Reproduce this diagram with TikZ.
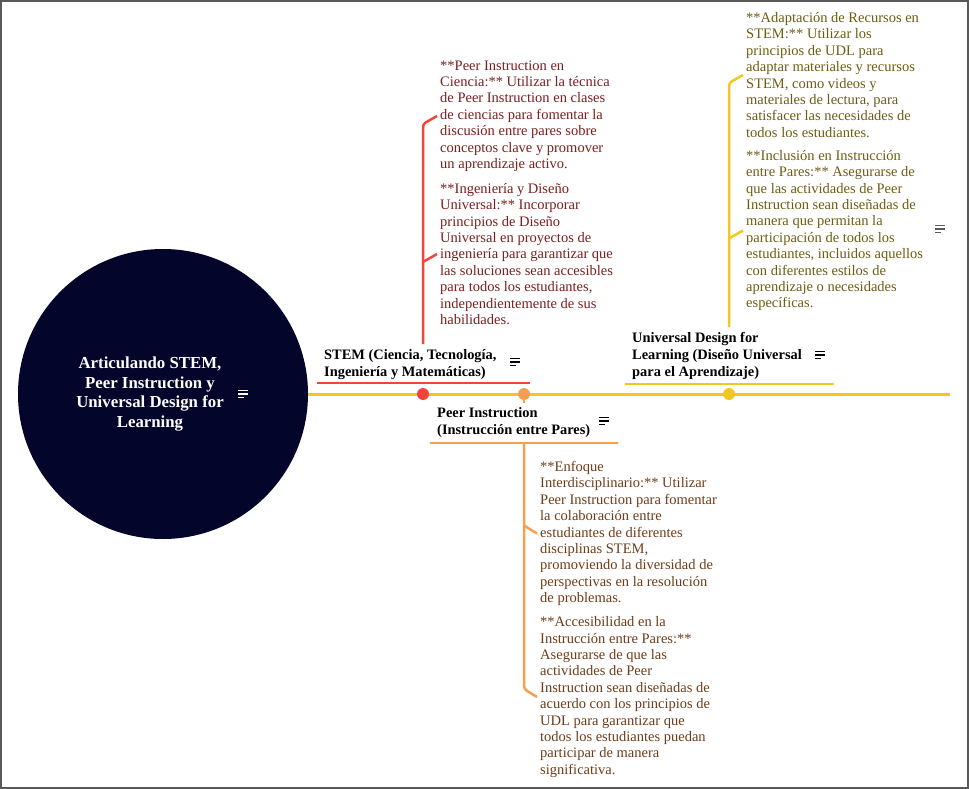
\documentclass[tikz,border=0pt]{standalone}
\usepackage{fontspec}
\setmainfont{Liberation Serif}
\usetikzlibrary{calc}
\definecolor{navy}{HTML}{04052B}
\definecolor{sun}{HTML}{F2C81E}
\definecolor{coral}{HTML}{F2453A}
\definecolor{peach}{HTML}{F4A04E}
\definecolor{wine}{HTML}{7A1E1E}
\definecolor{rust}{HTML}{6E3C18}
\definecolor{moss}{HTML}{6E5C12}

\begin{document}
\begin{tikzpicture}[x=1pt,y=-1pt,font=\fontsize{14.5}{16.4}\selectfont,
  para/.style={anchor=west,align=left,inner sep=0pt},
  head/.style={anchor=west,align=left,inner sep=0pt,font=\fontsize{14.4}{17}\selectfont\bfseries},
  branch/.style={line width=2.5pt,rounded corners=3pt},
  bar/.style={line width=2pt},
  noteicon/.pic={\draw[line width=1.4pt] (-5,-3.5)--(5,-3.5) (-5,0)--(5,0) (-5,3.5)--(1,3.5);}]
\useasboundingbox (0,0) rectangle (969,789);
\draw[gray!70!black,line width=1.5pt] (1,1) rectangle (968,788);
\node[circle,fill=navy,minimum size=290pt,inner sep=0pt] (root) at (163,394) {};
\node[text=white,align=center,inner sep=0pt,font=\fontsize{16.8}{19.5}\selectfont\bfseries] (title) at (150,394)
  {Articulando STEM,\\Peer Instruction y\\Universal Design for\\Learning};
\pic[white] at (243,394) {noteicon};
\coordinate (axisend) at (950,394);
\draw[sun,line width=3pt] (root.east) -- (axisend);
\coordinate (stemdot) at (423,394);
\coordinate (peerdot) at (524,394);
\coordinate (udldot) at (729,394);
\node[head] (stem) at (324,364.5) {STEM (Ciencia, Tecnología,\\Ingeniería y Matemáticas)};
\node[head] (peer) at (437,422.5) {Peer Instruction\\(Instrucción entre Pares)};
\node[head] (udl) at (632,356) {Universal Design for\\Learning (Diseño Universal\\para el Aprendizaje)};
\pic[black] at (515,362) {noteicon};
\pic[black] at (604,421) {noteicon};
\pic[black] at (820,355) {noteicon};
\pic[gray!70!black] at (940,229) {noteicon};
\draw[coral,bar] (317,383) -- (530,383);
\draw[peach,bar] (430,443) -- (618,443);
\draw[sun,bar] (625,384) -- (834,384);
\coordinate (peerbar) at (524,443);
\node[para,text=wine] (stemA) at (440,116) {**Peer Instruction en\\Ciencia:** Utilizar la técnica\\de Peer Instruction en clases\\de ciencias para fomentar la\\discusión entre pares sobre\\conceptos clave y promover\\un aprendizaje activo.};
\node[para,text=wine] (stemB) at (440,254) {**Ingeniería y Diseño\\Universal:** Incorporar\\principios de Diseño\\Universal en proyectos de\\ingeniería para garantizar que\\las soluciones sean accesibles\\para todos los estudiantes,\\independientemente de sus\\habilidades.};
\node[para,text=rust] (peerA) at (540,533.5) {**Enfoque\\Interdisciplinario:** Utilizar\\Peer Instruction para fomentar\\la colaboración entre\\estudiantes de diferentes\\disciplinas STEM,\\promoviendo la diversidad de\\perspectivas en la resolución\\de problemas.};
\node[para,text=rust] (peerB) at (540,697) {**Accesibilidad en la\\Instrucción entre Pares:**\\Asegurarse de que las\\actividades de Peer\\Instruction sean diseñadas de\\acuerdo con los principios de\\UDL para garantizar que\\todos los estudiantes puedan\\participar de manera\\significativa.};
\node[para,text=moss] (udlA) at (746,75) {**Adaptación de Recursos en\\STEM:** Utilizar los\\principios de UDL para\\adaptar materiales y recursos\\STEM, como videos y\\materiales de lectura, para\\satisfacer las necesidades de\\todos los estudiantes.};
\node[para,text=moss] (udlB) at (746,230.5) {**Inclusión en Instrucción\\entre Pares:** Asegurarse de\\que las actividades de Peer\\Instruction sean diseñadas de\\manera que permitan la\\participación de todos los\\estudiantes, incluidos aquellos\\con diferentes estilos de\\aprendizaje o necesidades\\específicas.};
\draw[coral,branch] ($(stemdot |- stem.north)+(0,-5)$) -- ($(stemdot |- stemA.west)+(0,8)$) -- ($(stemA.west)+(-3,0)$);
\draw[coral,branch] ($(stemdot |- stemB.west)+(0,8)$) -- ($(stemB.west)+(-3,0)$);
\draw[peach,branch] (peerbar) -- ($(peerbar |- peerB.west)+(0,-8)$) -- ($(peerB.west)+(-3,0)$);
\draw[peach,branch] ($(peerbar |- peerA.west)+(0,-8)$) -- ($(peerA.west)+(-3,0)$);
\draw[sun,branch] ($(udldot |- udl.north)+(0,-5)$) -- ($(udldot |- udlA.west)+(0,8)$) -- ($(udlA.west)+(-3,0)$);
\draw[sun,branch] ($(udldot |- udlB.west)+(0,8)$) -- ($(udlB.west)+(-3,0)$);
\draw[peach,line width=2.5pt] (peerdot) -- +(0,9);
\foreach \d/\c in {stemdot/coral,peerdot/peach,udldot/sun} \fill[\c] (\d) circle (6);
\end{tikzpicture}
\end{document}
